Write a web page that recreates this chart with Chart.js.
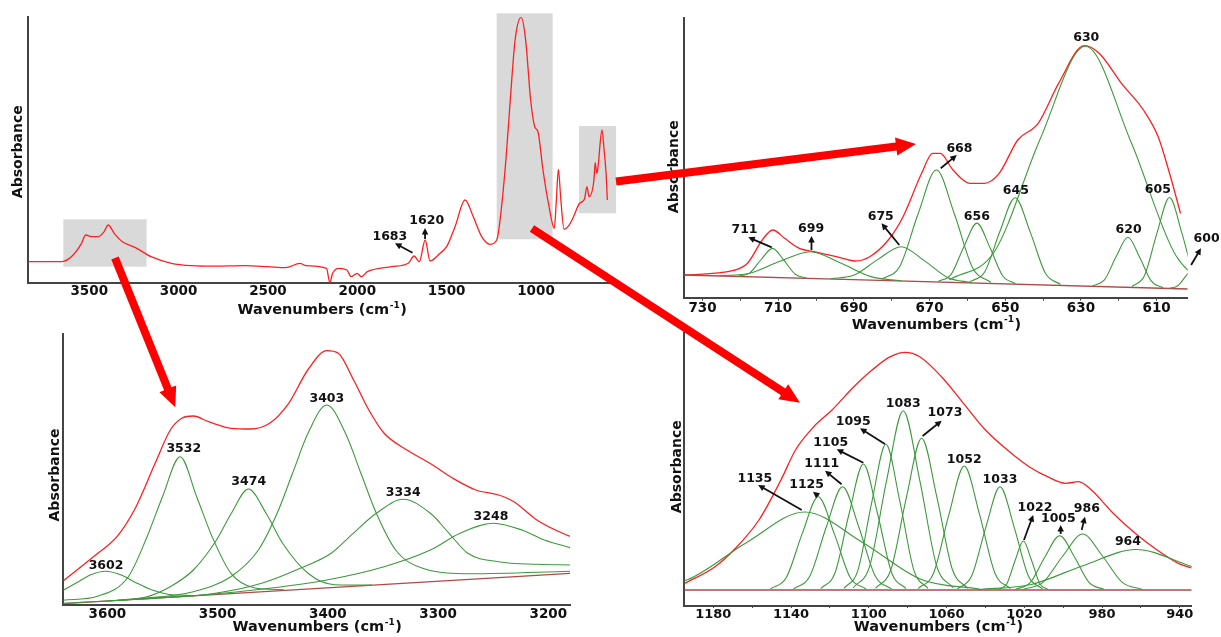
<!DOCTYPE html>
<html>
<head>
<meta charset="utf-8">
<script src="https://cdn.jsdelivr.net/npm/chart.js@4.4.1/dist/chart.umd.min.js"></script>
<style>
  body { margin: 0; background: #fff; width: 1221px; height: 637px; overflow: hidden; position: relative; }
  canvas { position: absolute; left: 0; top: 0; }
</style>
</head>
<body>
<canvas id="p1" width="1221" height="637"></canvas>
<canvas id="p2" width="1221" height="637"></canvas>
<canvas id="p3" width="1221" height="637"></canvas>
<canvas id="p4" width="1221" height="637"></canvas>
<canvas id="overlay" width="1221" height="637"></canvas>
<script>
// ---- overview spectrum (wavenumber, absorbance) ----
const survey = [[3841,21],[3657,21],[3600,26],[3543,39.4],[3520,47.7],[3486,46],[3451,46],[3417,51],[3394,57.7],
  [3360,49.4],[3314,41],[3234,34.4],[3154,26],[3040,19.4],[2926,17],[2800,16.5],[2629,17],[2500,16],[2401,15],
  [2321,19.4],[2287,17],[2172,14.4],[2154,0],[2138,9.4],[2104,14.4],[2058,12.7],[2035,6],[2001,9.4],[1978,6],
  [1944,11],[1807,16],[1715,19.4],[1682,26.7],[1653,21],[1620,42.7],[1593,21.7],[1537,29.4],[1500,36],[1453,56],
  [1397,82.7],[1351,66],[1304,46],[1257,38.4],[1220,42.7],[1201,62.7],[1167,126],[1144,182.7],[1117,242.7],
  [1083,265.4],[1058,242.7],[1030,182.7],[1007,156],[989,151],[961,112.7],[927,76],[898,54.4],[886,82.7],
  [875,113.4],[861,82.7],[843,53.4],[813,58],[790,66],[756,79.4],[729,83.4],[715,96],[703,86],[676,102.7],
  [669,120],[660,109.4],[653,116],[631,152.7],[619,132.7],[608,109.4],[601,82.7]];
const surveyBoxes = [[3645,3179,16,63.4],[1220,907,43.4,269.4],[759,552,69.4,156.7]];
const surveyTicks = [3500,3000,2500,2000,1500,1000];

// ---- 735-600 region ----
const fit600 = [[734.8,22.7],[722,27],[718.1,34.4],[714.2,57.7],[711.4,67.7],[708.3,59.4],[704.4,49.4],[700.5,46],
  [694.6,41],[689.7,36.7],[685.8,41],[680.9,57.7],[677,81],[672.1,124.4],[669.2,144.4],[667.2,144.4],[663.8,127.7],
  [659.4,114.4],[655.5,114.4],[651.6,124.4],[646.7,157.7],[641.3,174.4],[635.9,214.4],[629.1,252],[625.2,244.4],
  [619.3,214.4],[613.5,187.7],[609.6,161],[606.6,124.4],[603.7,84.4]];
const base600 = [[734.8,22.7],[601.8,8.7]];
const bands600 = [
  [[720.5,21.5],[717.5,24.8],[714.5,38.2],[711.5,49.3],[708.5,37.5],[705.5,23.5],[702.5,19.6]],
  [[725.5,22.0],[717.5,24.5],[709.5,36.4],[701.5,46.0],[693.5,34.7],[685.5,21.1],[677.5,17.0]],
  [[696.1,19.0],[689.9,22.6],[683.7,38.1],[677.5,51.0],[671.3,36.8],[665.1,20.0],[658.9,15.1]],
  [[682.6,18.4],[677.8,31.8],[673.0,84.2],[668.2,127.7],[663.4,83.2],[658.6,29.8],[653.8,15.4]],
  [[667.7,16.3],[664.3,23.4],[660.9,51.3],[657.5,74.6],[654.1,50.6],[650.7,22.0],[647.3,14.2]],
  [[659.4,15.8],[655.4,26.0],[651.4,66.4],[647.4,100.0],[643.4,65.6],[639.4,24.4],[635.4,13.2]],
  [[664.8,17.9],[652.8,46.5],[640.8,158.5],[628.8,251.5],[616.8,156.0],[604.8,41.4],[592.8,10.4]],
  [[626.9,11.9],[623.8,17.8],[620.7,41.1],[617.6,60.4],[614.5,40.4],[611.4,16.5],[608.3,10.0]],
  [[616.5,11.2],[613.2,22.2],[609.9,64.8],[606.6,100.2],[603.3,64.1],[600,20.8],[596.7,9.2]],
  [[606.6,9.4],[604.4,12.0],[602.2,22.1],[600,30.5],[597.8,21.8],[595.6,10.8],[593.4,8.0]]
];
const ticks600 = [730,720,710,700,690,680,670,660,650,640,630,620,610];
const peaks600 = [['630',628.6,260],['668',662.1,149.4],['645',647.2,106.7],['656',657.5,81],['675',682.9,81],
  ['711',718.9,67.7],['699',701.3,69.4],['620',617.4,67.7],['605',609.7,107.7],['600',596.8,58.7]];
const arrows600 = [[667.05,129.4,662.8,142.7],[678,52.7,682.7,74.4],[711.7,50.4,717.9,60.4],[701.2,47.7,701.2,61.7],
  [600.9,32.7,598.3,49.4]];

// ---- 3640-3180 region ----
const fit3400 = [[3640,24],[3608.7,51.4],[3591.3,68],[3574,98],[3556.7,141.4],[3542.9,174.7],[3532.5,186.4],
  [3522.1,188.7],[3508.2,183],[3487.5,176.4],[3470.1,175.7],[3452.8,181.4],[3435.5,201.4],[3418.2,234.7],
  [3400.9,254],[3390.5,251.4],[3376.6,224.7],[3362.8,194.7],[3348.9,171.4],[3328.2,154.7],[3307.4,141.4],
  [3286.6,126.4],[3265.8,114.7],[3245,109.7],[3231.2,103],[3210.4,84.7],[3183.4,69.7],[3180.3,68.5]];
const base3400 = [[3640,1],[3180.3,31.4]];
const bands3400 = [
  [[3640,14.5],[3628,22],[3615,30],[3602,33.5],[3588,30],[3574,22],[3560,15],[3545,10.5],[3520,9]],
  [[3640,4.5],[3609,8.5],[3581,28],[3564,68],[3550,108],[3534,148],[3519,108],[3505,68],[3488,31.5],[3467,17],[3440,15]],
  [[3590,4.5],[3564,8],[3543,18],[3522,34.7],[3501,64.7],[3487.5,91.4],[3472,115.7],[3456,91.4],[3441,61.4],[3418,31.4],[3394,20],[3360,19.6]],
  [[3580,5.2],[3522,13],[3488,28],[3463,54.7],[3446,91.4],[3432,131.4],[3418,171.4],[3401,199.7],[3384,171.4],[3370,131.4],[3356,91.4],[3338.5,54.7],[3314,36.4],[3270,31],[3180,33.5]],
  [[3600,3.7],[3557,6.8],[3505,11],[3460,21.4],[3425,36.4],[3397,51.4],[3377,71.4],[3356,91.4],[3331.6,105.4],[3307,91.4],[3290,71.4],[3273,51.4],[3245,43],[3210,40.4],[3180,39.7]],
  [[3640,1.3],[3522,9],[3453,16.4],[3401,24.7],[3349,38],[3307,54.7],[3280,71.4],[3250,81.4],[3224,74.7],[3203.5,64.7],[3180,57]]
];
const ticks3400 = [3600,3500,3400,3300,3200];
const peaks3400 = [['3602',3601.2,38.7],['3532',3530.7,156.4],['3474',3471.8,123],['3403',3400.9,205.7],
  ['3334',3331.6,112.4],['3248',3252,88]];

// ---- 1195-934 region ----
const fit1100 = [[1194.9,22.5],[1179.1,39.3],[1167.8,59.3],[1156.5,86],[1145.2,126],[1137.7,156],[1128.3,179.3],
  [1118.9,196],[1107.7,219.3],[1098.3,236],[1088.9,249.3],[1081.4,253.7],[1073.8,249.3],[1062.6,229.3],
  [1051.3,202.7],[1040,176],[1028.7,156],[1017.5,139.3],[1008.1,129.3],[998.7,122.7],[992.1,124.3],[985.5,116],
  [974.3,92.7],[963,72.7],[951.7,56],[940.8,42.7],[934,38]];
const base1100 = [[1194.9,16],[933.9,16]];
const bands1100 = [
  [[1223,16.9],[1193,26.5],[1163,63.3],[1133,94],[1103,63.3],[1073,26.5],[1043,16.9]],
  [[1150.6,17.0],[1142.4,28.6],[1134.2,72.6],[1126,109.3],[1117.8,72.6],[1109.6,28.6],[1101.4,17.0]],
  [[1138.7,17.1],[1130.3,29.9],[1121.9,78.7],[1113.5,119.3],[1105.1,78.7],[1096.7,29.9],[1088.3,17.1]],
  [[1124.7,17.4],[1117.4,33.0],[1110.1,92.5],[1102.8,142],[1095.5,92.5],[1088.2,33.0],[1080.9,17.4]],
  [[1112.8,17.6],[1105.6,35.7],[1098.4,104.4],[1091.2,161.7],[1084,104.4],[1076.8,35.7],[1069.6,17.6]],
  [[1108.1,18.0],[1099.5,40.2],[1090.9,124.8],[1082.3,195.3],[1073.7,124.8],[1065.1,40.2],[1056.5,18.0]],
  [[1096.5,17.7],[1088.6,36.5],[1080.7,108.1],[1072.8,167.7],[1064.9,108.1],[1057,36.5],[1049.1,17.7]],
  [[1074.6,17.4],[1066.7,32.7],[1058.8,91.3],[1050.9,140],[1043,91.3],[1035.1,32.7],[1027.2,17.4]],
  [[1054.4,17.1],[1047.1,29.9],[1039.8,78.7],[1032.5,119.3],[1025.2,78.7],[1017.9,29.9],[1010.6,17.1]],
  [[1033.1,16.5],[1028.9,22.6],[1024.7,45.7],[1020.5,65],[1016.3,45.7],[1012.1,22.6],[1007.9,16.5]],
  [[1024.6,16.6],[1017,23.3],[1009.4,49.0],[1001.8,70.3],[994.2,49.0],[986.6,23.3],[979,16.6]],
  [[1020.6,16.6],[1010.4,23.6],[1000.2,50],[990,72],[979.8,50],[969.6,23.6],[959.4,16.6]],
  [[1043.5,16.4],[1016.5,21.5],[989.5,40.6],[962.5,56.5],[935.5,40.6],[908.5,21.5],[881.5,16.4]]
];
const ticks1100 = [1180,1160,1140,1120,1100,1080,1060,1040,1020,1000,980,960,940];
const peaks1100 = [['1083',1082.3,202],['1073',1060.8,193.3],['1095',1108,184.3],['1105',1119.6,163.3],
  ['1111',1124.2,142],['1125',1132,121.7],['1135',1158.6,127.7],['1052',1050.9,146.7],['1033',1032.5,126],
  ['1022',1014.5,98.7],['1005',1002.5,87.7],['986',987.8,97.7],['964',966.7,64.3]];
const arrows1100 = [[1072.3,170,1062.5,185.3],[1091.7,162,1104.5,177.7],[1102.8,143.3,1116.5,156.7],
  [1114,121.7,1122.5,135.3],[1126,110,1128.7,114.3],[1134.5,96,1156.9,121],[1020.2,66,1015.4,91],
  [1001.3,72,1001.3,81],[990.5,76,988.8,89.3]];

const RED = '#ff1f1f', GREEN = '#3c993c', BASE = '#b04a48', AXIS = '#444', INK = '#111';
const FONT = '"DejaVu Sans", sans-serif';
Chart.defaults.font.family = FONT;

function smallArrow(ctx, x0, y0, x1, y1) {
  const a = Math.atan2(y1 - y0, x1 - x0), h = 6.5;
  ctx.strokeStyle = INK; ctx.fillStyle = INK; ctx.lineWidth = 1.8;
  ctx.beginPath(); ctx.moveTo(x0, y0); ctx.lineTo(x1 - h * 0.7 * Math.cos(a), y1 - h * 0.7 * Math.sin(a)); ctx.stroke();
  ctx.beginPath();
  ctx.moveTo(x1, y1);
  ctx.lineTo(x1 - h * Math.cos(a) + h * 0.5 * Math.sin(a), y1 - h * Math.sin(a) - h * 0.5 * Math.cos(a));
  ctx.lineTo(x1 - h * Math.cos(a) - h * 0.5 * Math.sin(a), y1 - h * Math.sin(a) + h * 0.5 * Math.cos(a));
  ctx.closePath(); ctx.fill();
}

// boxes, peak labels, arrows and axis titles
const deco = {
  id: 'deco',
  beforeDatasetsDraw(chart, args, o) {
    const { ctx, scales: { x, y } } = chart;
    ctx.save();
    ctx.fillStyle = '#d9d9d9';
    (o.boxes || []).forEach(b => {
      const x0 = x.getPixelForValue(b[0]), x1 = x.getPixelForValue(b[1]);
      const y0 = y.getPixelForValue(b[2]), y1 = y.getPixelForValue(b[3]);
      ctx.fillRect(Math.min(x0, x1), Math.min(y0, y1), Math.abs(x1 - x0), Math.abs(y1 - y0));
    });
    ctx.restore();
  },
  afterDraw(chart, args, o) {
    const { ctx, scales: { x, y }, chartArea: ca } = chart;
    ctx.save();
    ctx.fillStyle = INK;
    ctx.textAlign = 'center'; ctx.textBaseline = 'middle';
    ctx.font = 'bold 12.5px ' + FONT;
    (o.peaks || []).forEach(p => ctx.fillText(p[0], x.getPixelForValue(p[1]), y.getPixelForValue(p[2])));
    (o.arrows || []).forEach(a => smallArrow(ctx, x.getPixelForValue(a[0]), y.getPixelForValue(a[1]),
      x.getPixelForValue(a[2]), y.getPixelForValue(a[3])));
    // x title with superscript
    ctx.fillStyle = INK;
    const main = 'Wavenumbers (cm', sup = '-1', end = ')';
    const fMain = 'bold 14.5px ' + FONT, fSup = 'bold 9px ' + FONT;
    ctx.font = fMain; const w1 = ctx.measureText(main).width, w3 = ctx.measureText(end).width;
    ctx.font = fSup; const w2 = ctx.measureText(sup).width;
    let tx = (ca.left + ca.right) / 2 - (w1 + w2 + w3) / 2;
    ctx.textAlign = 'left';
    ctx.font = fMain; ctx.fillText(main, tx, o.xTitleY);
    ctx.font = fSup; ctx.fillText(sup, tx + w1 + 0.5, o.xTitleY - 5);
    ctx.font = fMain; ctx.fillText(end, tx + w1 + w2 + 1, o.xTitleY);
    // y title
    ctx.translate(o.yTitle[0], o.yTitle[1]);
    ctx.rotate(-Math.PI / 2);
    ctx.textAlign = 'center';
    ctx.font = 'bold 14px ' + FONT;
    ctx.fillText('Absorbance', 0, 0);
    ctx.restore();
  }
};

function line(pts, color, width) {
  return {
    data: pts.map(p => ({ x: p[0], y: p[1] })),
    borderColor: color, borderWidth: width, pointRadius: 0, fill: false,
    cubicInterpolationMode: 'monotone'
  };
}

function makePanel(id, p) {
  const datasets = [];
  (p.bands || []).forEach(b => datasets.push(line(b, GREEN, 1.1)));
  if (p.base) datasets.push(line(p.base, BASE, 1.3));
  datasets.push(line(p.fit, RED, 1.3));
  const [L, T, R, B] = p.area;
  return new Chart(document.getElementById(id), {
    type: 'line',
    data: { datasets },
    plugins: [deco],
    options: {
      responsive: false, animation: false, events: [],
      layout: { padding: { left: L - 12, top: T, right: 1221 - R, bottom: 637 - B - 30 } },
      plugins: {
        legend: { display: false }, tooltip: { enabled: false },
        deco: { boxes: p.boxes, peaks: p.peaks, arrows: p.arrows, xTitleY: p.xTitleY, yTitle: p.yTitle }
      },
      scales: {
        x: {
          type: 'linear', reverse: true, min: p.xr[0], max: p.xr[1],
          afterBuildTicks: s => { s.ticks = p.ticks.map(v => ({ value: v })); },
          afterFit: s => { s.height = 30; },
          grid: { display: p.tickLen > 0, drawOnChartArea: false, drawTicks: p.tickLen > 0, tickLength: p.tickLen, color: AXIS, lineWidth: 1 },
          border: { display: true, color: AXIS, width: 2 },
          ticks: {
            autoSkip: false, maxRotation: 0, padding: p.pad, color: INK,
            font: { family: FONT, weight: 'bold', size: p.tickSize || 13.5 },
            callback: v => (p.labelled ? p.labelled(v) : true) ? String(v) : ''
          }
        },
        y: {
          min: 0, max: p.ymax,
          afterFit: s => { s.width = 12; },
          ticks: { display: false },
          grid: { display: false },
          border: { display: true, color: AXIS, width: 2 }
        }
      }
    }
  });
}

makePanel('p1', {
  fit: survey, boxes: surveyBoxes, ticks: surveyTicks,
  area: [28.3, 17.3, 615, 282.7], xr: [558, 3841], ymax: 265.4, tickLen: 0, pad: 1,
  peaks: [['1620', 1611.6, 62], ['1683', 1818, 46]],
  arrows: [[1621, 43.7, 1621, 54.7], [1691, 30, 1789, 39.4]],
  xTitleY: 310.7, yTitle: [18, 151.7]
});
makePanel('p2', {
  fit: fit600, base: base600, bands: bands600, ticks: ticks600, labelled: v => v % 20 === 10,
  area: [684.3, 18.3, 1187.7, 297.7], xr: [601.8, 734.8], ymax: 279.4, tickLen: 3, pad: 0,
  peaks: peaks600, arrows: arrows600, xTitleY: 325, yTitle: [674, 166.7]
});
makePanel('p3', {
  fit: fit3400, base: base3400, bands: bands3400, ticks: ticks3400,
  area: [63.3, 334, 570, 604.7], xr: [3180.3, 3640], ymax: 270.7, tickLen: 0, pad: 1.5,
  peaks: peaks3400, xTitleY: 627.7, yTitle: [55.4, 475]
});
makePanel('p4', {
  fit: fit1100, base: base1100, bands: bands1100, ticks: ticks1100, labelled: v => (1180 - v) % 40 === 0,
  area: [684.3, 333.3, 1191.7, 606], xr: [933.9, 1194.9], ymax: 272.7, tickLen: 2, pad: -1, tickSize: 13,
  peaks: peaks1100, arrows: arrows1100, xTitleY: 627.5, yTitle: [677, 466.7]
});

// big red pointers linking overview boxes to zoomed panels
(function () {
  const ctx = document.getElementById('overlay').getContext('2d');
  function bigArrow(x0, y0, x1, y1) {
    const a = Math.atan2(y1 - y0, x1 - x0), len = Math.hypot(x1 - x0, y1 - y0);
    ctx.save();
    ctx.translate(x0, y0); ctx.rotate(a);
    ctx.fillStyle = '#ff0000';
    ctx.beginPath();
    ctx.moveTo(0, -4); ctx.lineTo(len - 20, -4); ctx.lineTo(len - 20, -9);
    ctx.lineTo(len, 0); ctx.lineTo(len - 20, 9); ctx.lineTo(len - 20, 4); ctx.lineTo(0, 4);
    ctx.closePath(); ctx.fill();
    ctx.restore();
  }
  bigArrow(115, 258, 175.3, 407.3);
  bigArrow(532, 228.5, 800, 402.7);
  bigArrow(616, 181.5, 916, 144);
})();
</script>
</body>
</html>
